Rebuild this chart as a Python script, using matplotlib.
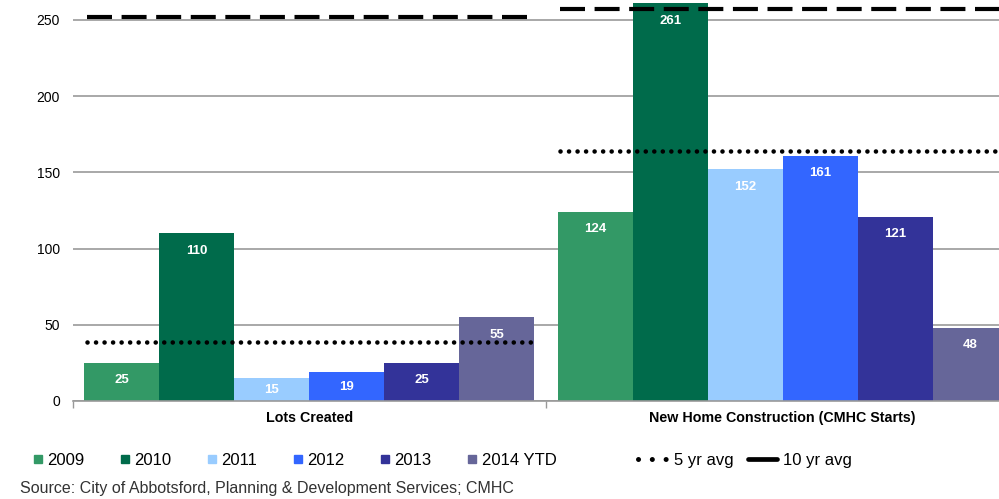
import matplotlib
matplotlib.use("Agg")
import matplotlib.pyplot as plt
from matplotlib.lines import Line2D
import numpy as np

plt.rcParams['font.family'] = ['Liberation Sans', 'DejaVu Sans']

groups = ["Lots Created", "New Home Construction (CMHC Starts)"]
years = ["2009", "2010", "2011", "2012", "2013", "2014 YTD"]
values = {
    "2009": [25, 124],
    "2010": [110, 261],
    "2011": [15, 152],
    "2012": [19, 161],
    "2013": [25, 121],
    "2014 YTD": [55, 48],
}
avg5 = [38.8, 163.8]
avg10 = [252, 257]
colors = ["#339966", "#006B4B", "#99CCFF", "#3366FF", "#333399", "#666699"]

fig = plt.figure(figsize=(9.99, 4.99), dpi=100)
ax = fig.add_axes([72.6/999, 1-401/499, 946.8/999, 401/499])

x = np.arange(len(groups))
bw = 0.1584
for i, (yr, c) in enumerate(zip(years, colors)):
    offs = (i - 2.5) * bw
    vals = values[yr]
    ax.bar(x + offs, vals, width=bw, color=c, zorder=2)
    for xi, v in zip(x, vals):
        ly = max(v - 11.5, v / 2)
        ax.text(xi + offs, ly, f"{v}", color="white", fontsize=9.5, fontweight="bold",
                ha="center", va="center", zorder=4)

for xi, a5, a10 in zip(x, avg5, avg10):
    ax.hlines(a10, xi - 0.47, xi + 0.475, colors="black", linewidth=3.0,
              linestyles=(0, (6, 2.3)), zorder=3)
    ax.hlines(a5, xi - 0.47, xi + 0.475, colors="black", linewidth=3.3,
              linestyles=(0, (0.01, 1.85)), capstyle="round", zorder=3)

ax.set_xlim(-0.5, 1.5)
ax.set_ylim(0, 263)
ax.set_yticks([0, 50, 100, 150, 200, 250])
ax.yaxis.grid(True, color="#999999", linewidth=1.2, zorder=0)
ax.set_axisbelow(True)
for s in ["top", "right", "left"]:
    ax.spines[s].set_visible(False)
ax.spines["bottom"].set_color("#999999")
ax.spines["bottom"].set_linewidth(1.2)
ax.tick_params(axis="y", length=0, labelsize=10, pad=9)
ax.set_xticks([-0.5, 0.5, 1.5])
ax.set_xticklabels([])
ax.tick_params(axis="x", length=5, color="#999999", width=1)
for xi, g in zip(x, groups):
    ax.text(xi, -11, g, ha="center", va="center", fontsize=10.3, fontweight="bold",
            transform=ax.transData)

year_handles = [Line2D([], [], marker="s", linestyle="none", markersize=6,
                       markerfacecolor=c, markeredgecolor=c) for c in colors]
leg1 = fig.legend(year_handles, years, loc="center left", bbox_to_anchor=(32/999, 0.078),
                  ncol=6, frameon=False, fontsize=12, handlelength=0.7, handletextpad=0.2,
                  columnspacing=2.1, borderaxespad=0, borderpad=0)

avg_handles = [Line2D([], [], color="black", linewidth=3.6, linestyle=(0, (0.01, 2.75)),
                      dash_capstyle="round"),
               Line2D([], [], color="black", linewidth=3.4, solid_capstyle="round")]
leg2 = fig.legend(avg_handles, ["5 yr avg", "10 yr avg"], loc="center left",
                  bbox_to_anchor=(638/999, 0.078), ncol=2, frameon=False, fontsize=12,
                  handlelength=1.75, handletextpad=0.4, columnspacing=0.85,
                  borderaxespad=0, borderpad=0)

fig.text(20/999, 1-489/499, "Source: City of Abbotsford, Planning & Development Services; CMHC",
         fontsize=11.5, color="#333333", ha="left", va="center")

fig.savefig("out.png", dpi=100)
